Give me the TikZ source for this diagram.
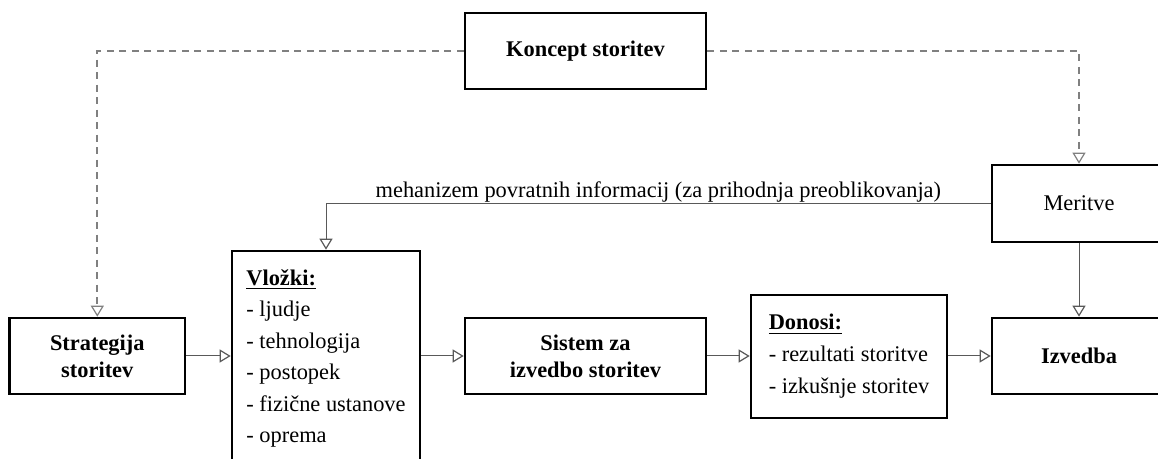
\documentclass[tikz,border=0pt]{standalone}
\usepackage{fontspec}
\setmainfont{Liberation Serif}
\usetikzlibrary{arrows.meta}
\usetikzlibrary{calc}

\begin{document}
\begin{tikzpicture}[x=.5pt, y=-.5pt,
  box/.style={draw=black, line width=1.3pt, fill=white, inner sep=0pt, font=\fontsize{11.2}{13.5}\selectfont},
  bbox/.style={box, align=center, font=\fontsize{11.2}{13.5}\selectfont\bfseries},
  lbox/.style={box, align=left, font=\fontsize{11.2}{15.7}\selectfont},
  link/.style={draw=black!65, line width=.5pt, -{Triangle[open, length=5.5pt, width=6.5pt, line width=.6pt]}},
  dlink/.style={link, draw=black!50, line width=1pt, dash pattern=on 3.5pt off 2.75pt},
]
\useasboundingbox (0,0) rectangle (1158,459);
\clip (0,0) rectangle (1158,459);

\node[bbox, minimum width=120.5pt, minimum height=38pt] (koncept) at (585.5,51) {Koncept storitev};
\node[bbox, minimum width=87.7pt, minimum height=38pt] (strat) at (97.3,356) {Strategija\\storitev};
\node[lbox, minimum width=94pt, minimum height=107.5pt] (vlozki) at (326,358.5)
  {\underline{\textbf{Vložki:}}\\- ljudje\\- tehnologija\\- postopek\\- fizične ustanove\\- oprema};
\node[bbox, minimum width=120.5pt, minimum height=38pt] (sistem) at (585.5,356) {Sistem za\\izvedbo storitev};
\node[lbox, minimum width=98pt, minimum height=61.5pt,
  font=\fontsize{11.2}{16}\selectfont] (donosi) at (849,356.5)
  {\underline{\textbf{Donosi:}}\\- rezultati storitve\\- izkušnje storitev};
\node[bbox, minimum width=87pt, minimum height=38pt] (izvedba) at (1079,356) {Izvedba};
\node[box, minimum width=87pt, minimum height=38.5pt] (meritve) at (1079,203.5) {Meritve};

\draw[dlink] (koncept.west) -| (strat.north);
\draw[dlink] (koncept.east) -| (meritve.north);
\draw[link] (meritve.west) -| (vlozki.north)
  node[pos=.25, above, inner sep=.5pt, font=\fontsize{11.2}{13.5}\selectfont] {mehanizem povratnih informacij (za prihodnja preoblikovanja)};
\draw[link] (meritve) -- (izvedba);
\draw[link] (strat.east) -- (strat.east -| vlozki.west);
\draw[link] (vlozki.east |- sistem.west) -- (sistem.west);
\draw[link] (sistem.east) -- (sistem.east -| donosi.west);
\draw[link] (donosi.east |- izvedba.west) -- (izvedba.west);
\end{tikzpicture}
\end{document}
